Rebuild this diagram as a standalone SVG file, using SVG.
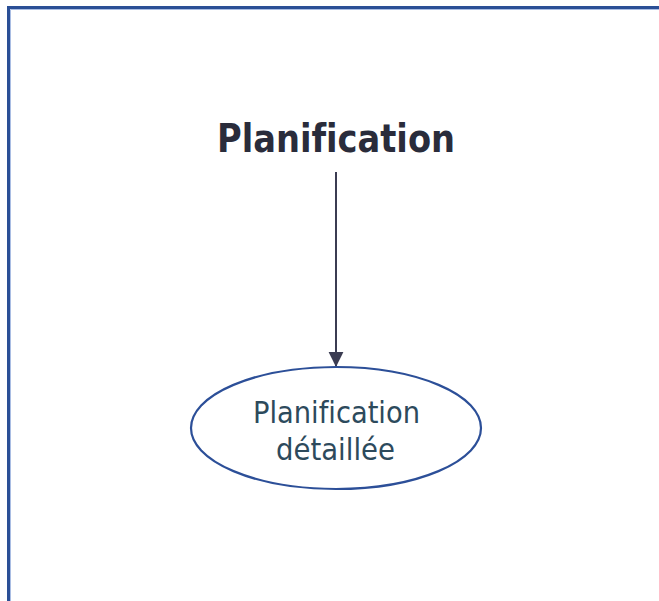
<svg xmlns="http://www.w3.org/2000/svg" width="659" height="601" viewBox="0 0 659 601">
  <style>
    .frame { fill: none; stroke: #2a4f96; stroke-width: 3; }
    .frame-inner { fill: none; stroke: #a9bde3; stroke-width: 1; }
    text { font-variant-ligatures: none; }
    .title { font-family: "DejaVu Sans Condensed", "DejaVu Sans", sans-serif; font-weight: bold; font-size: 39px; fill: #2a2c3b; text-anchor: middle; }
    .node-shape { fill: #ffffff; stroke: #2c4f98; stroke-width: 2.2; }
    .node-label { font-family: "DejaVu Sans Condensed", "DejaVu Sans", sans-serif; font-size: 30px; fill: #2d4a5c; text-anchor: middle; }
    .edge { stroke: #3b3c52; stroke-width: 2; fill: none; }
  </style>
  <defs>
    <marker id="arrow" markerWidth="8" markerHeight="8" refX="7.5" refY="4" orient="auto" markerUnits="strokeWidth">
      <path d="M0,0.3 L7.5,4 L0,7.7 Z" fill="#3b3c52"/>
    </marker>
  </defs>

  <!-- outer frame (right and bottom edges fall outside the view) -->
  <rect class="frame" x="8.5" y="7.5" width="700" height="700"/>
  <path class="frame-inner" d="M10.5,700 V9.5 H700"/>

  <g id="title">
    <text class="title" x="336" y="152" textLength="238" lengthAdjust="spacingAndGlyphs">Planification</text>
  </g>

  <g id="connectors">
    <line class="edge" x1="336" y1="172" x2="336" y2="367" marker-end="url(#arrow)"/>
  </g>

  <g id="node-planification-detaillee">
    <ellipse class="node-shape" cx="336" cy="428" rx="145" ry="61"/>
    <text class="node-label" x="336.5" y="423" textLength="167" lengthAdjust="spacingAndGlyphs">Planification</text>
    <text class="node-label" x="335.5" y="460" textLength="119" lengthAdjust="spacingAndGlyphs">détaillée</text>
  </g>
</svg>
